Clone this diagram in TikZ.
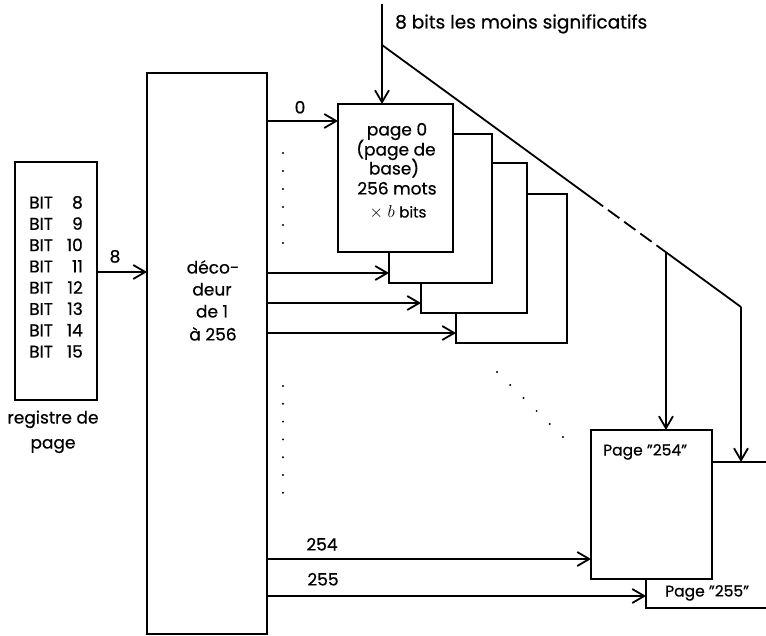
\documentclass[tikz,border=0pt]{standalone}
\usepackage{fontspec}
\setmainfont{Poppins}[FakeBold=0.6]
\usetikzlibrary{arrows.meta,calc}
\begin{document}
\begin{tikzpicture}[x=1pt,y=-1pt,
  box/.style={draw, line width=1.3pt, fill=white, inner sep=0pt, outer sep=0pt, anchor=north west},
  arr/.style={line width=1.8pt, -{Straight Barb[length=12pt,width=14pt]}},
  wire/.style={line width=1.8pt},
  lbl/.style={inner sep=0pt, font=\fontsize{17}{20}\selectfont, text height=0.7em, text depth=0pt},
  biglbl/.style={lbl, font=\fontsize{18.5}{22}\selectfont},
  smalllbl/.style={lbl, font=\fontsize{15.5}{18}\selectfont},
  dot/.style={circle, fill, inner sep=0pt, minimum size=2.2pt}
]
\useasboundingbox (0,0) rectangle (766,636);
\clip (0,0) rectangle (766,636);

% ---------- register ----------
\node[box, minimum width=82pt, minimum height=238pt] (reg) at (15,162) {};
\foreach \i [count=\k from 0] in {8,...,15}{
  \pgfmathsetmacro{\yy}{205+\k*21.3}
  \node[lbl, anchor=west] (bit\i) at (29,\yy) {BIT};
  \node[lbl, anchor=east] (num\i) at (83,\yy) {\i};
}
\node[lbl] (reglblA) at (53,420) {registre de};
\node[lbl] (reglblB) at (53,445) {page};

% ---------- decoder ----------
\node[box, minimum width=120pt, minimum height=561pt] (dec) at (147,73) {};
\node[lbl] (decA) at (213,270) {déco-};
\node[lbl] (decB) at (212,292) {deur};
\node[lbl] (decC) at (212,314) {de 1};
\node[lbl] (decD) at (213,337) {à 256};

\coordinate (y8) at (0,272);
\draw[arr] (reg.east |- y8) -- (dec.west |- y8);
\node[lbl] (l8) at (115,259) {8};

% ---------- pages 255 & 254 ----------
\node[box, minimum width=200pt, minimum height=146pt] (p255) at (646,462) {};
\node[smalllbl, anchor=west] (t255) at (665,593) {Page ''255''};
\node[box, minimum width=121pt, minimum height=149pt] (p254) at (591,430) {};
\node[smalllbl, anchor=west] (t254) at (603,452) {Page ''254''};

% ---------- stacked pages ----------
\node[box, minimum width=111pt, minimum height=149pt] (p3) at (456,194) {};
\node[box, minimum width=106pt, minimum height=150pt] (p2) at (421,163) {};
\node[box, minimum width=103pt, minimum height=149pt] (p1) at (389,134) {};
\node[box, minimum width=115pt, minimum height=148pt] (p0) at (338,104) {};
\node[lbl] (p0a) at (397,132) {page 0};
\node[lbl] (p0b) at (396,152) {(page de};
\node[lbl] (p0c) at (394,171) {base)};
\node[lbl] (p0d) at (397,191) {256 mots};
\node[lbl] (p0e) at (398,214) {$\times$ $b$ {\fontsize{15}{18}\selectfont bits}};

% ---------- decoder outputs ----------
\coordinate (ya) at (0,121);
\coordinate (yb) at (0,273);
\coordinate (yc) at (0,303);
\coordinate (yd) at (0,333);
\coordinate (ye) at (0,559);
\coordinate (yf) at (0,596);
\draw[arr] (dec.east |- ya) -- (p0.west |- ya);
\draw[arr] (dec.east |- yb) -- (p1.west |- yb);
\draw[arr] (dec.east |- yc) -- (p2.west |- yc);
\draw[arr] (dec.east |- yd) -- (p3.west |- yd);
\draw[arr] (dec.east |- ye) -- (p254.west |- ye);
\draw[arr] (dec.east |- yf) -- (p255.west |- yf);
\node[lbl] (l0) at (300,110) {0};
\node[lbl] (l254) at (322,547) {254};
\node[lbl] (l255) at (323,582) {255};

% ---------- least significant bits bus ----------
\coordinate (top) at (382,4);
\draw[arr] (top) -- (top |- p0.north);
\node[biglbl, anchor=west] (toplbl) at (395,25) {8 bits les moins significatifs};
\coordinate (d0) at (382,45);
\coordinate (d1) at (741,307);
\coordinate (ds) at ($(d0)!0.616!(d1)$);
\coordinate (de) at ($(d0)!0.766!(d1)$);
\coordinate (tp) at ($(d0)!0.791!(d1)$);
\draw[wire] (d0) -- (ds);
\draw[wire, dash pattern=on 14pt off 6pt, dash phase=14pt] (ds) -- (de);
\draw[wire] (de) -- (d1);
\draw[arr] (tp) -- (tp |- p254.north);
\draw[arr] (d1) -- (d1 |- p255.north);

% ---------- dots ----------
\foreach \k in {0,...,5}{ \node[dot] (ua\k) at (283,153+\k*18) {}; }
\foreach \k in {0,...,6}{ \node[dot] (ub\k) at (283,386+\k*17.8) {}; }
\foreach \k in {0,...,5}{ \node[dot] (dg\k) at (497+\k*13.2,372+\k*13) {}; }
\end{tikzpicture}
\end{document}
